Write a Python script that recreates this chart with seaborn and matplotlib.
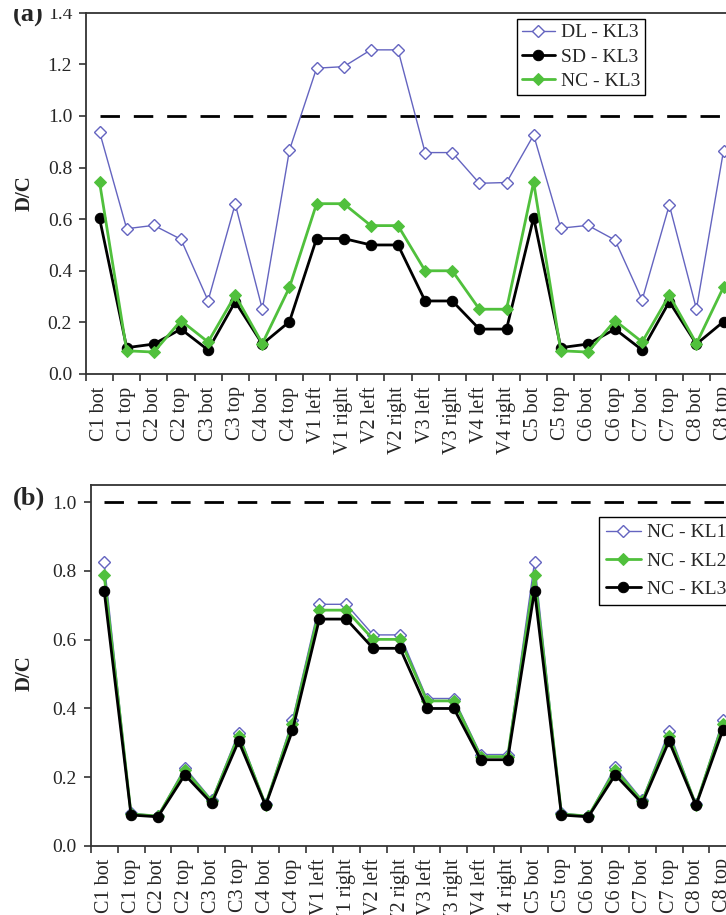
import numpy as np
import pandas as pd
import matplotlib
matplotlib.use("Agg")
import matplotlib.pyplot as plt
from matplotlib.patches import Rectangle
import seaborn as sns

# ---------------- data ----------------
categories = ["C1 bot", "C1 top", "C2 bot", "C2 top", "C3 bot", "C3 top", "C4 bot", "C4 top",
              "V1 left", "V1 right", "V2 left", "V2 right", "V3 left", "V3 right", "V4 left", "V4 right",
              "C5 bot", "C5 top", "C6 bot", "C6 top", "C7 bot", "C7 top", "C8 bot", "C8 top"]

dl_kl3 = [0.938, 0.563, 0.576, 0.522, 0.284, 0.659, 0.251, 0.868,
          1.185, 1.191, 1.256, 1.256, 0.858, 0.858, 0.739, 0.742,
          0.926, 0.565, 0.576, 0.519, 0.287, 0.655, 0.252, 0.866]
sd_kl3 = [0.603, 0.102, 0.116, 0.174, 0.093, 0.280, 0.116, 0.203,
          0.525, 0.525, 0.500, 0.500, 0.283, 0.283, 0.174, 0.174,
          0.606, 0.102, 0.116, 0.174, 0.093, 0.280, 0.116, 0.203]
nc_kl3 = [0.743, 0.090, 0.085, 0.207, 0.124, 0.305, 0.118, 0.336,
          0.660, 0.660, 0.575, 0.575, 0.400, 0.400, 0.251, 0.251,
          0.743, 0.090, 0.085, 0.207, 0.124, 0.305, 0.118, 0.337]
nc_kl1 = [0.825, 0.095, 0.088, 0.228, 0.134, 0.330, 0.122, 0.366,
          0.703, 0.703, 0.614, 0.614, 0.429, 0.429, 0.266, 0.266,
          0.826, 0.095, 0.088, 0.230, 0.134, 0.334, 0.122, 0.366]
nc_kl2 = [0.789, 0.093, 0.087, 0.221, 0.130, 0.321, 0.120, 0.355,
          0.686, 0.686, 0.601, 0.601, 0.422, 0.422, 0.260, 0.260,
          0.789, 0.093, 0.087, 0.221, 0.130, 0.321, 0.120, 0.355]

ticks_a = [0.0, 0.2, 0.4, 0.6, 0.8, 1.0, 1.2, 1.4]
ticks_b = [0.0, 0.2, 0.4, 0.6, 0.8, 1.0]

# ---------------- style ----------------
sns.set_style("ticks")
plt.rcParams["font.family"] = ["Liberation Serif", "DejaVu Serif"]
plt.rcParams["axes.edgecolor"] = "#333333"
plt.rcParams["axes.linewidth"] = 1.3

BLUE = "#6464c0"
GREEN = "#50c03c"
BLACK = "#000000"

W, H = 726, 915
fig = plt.figure(figsize=(W / 100, H / 100), dpi=100)

x = np.arange(len(categories))


def px_axes(left, top, bottom, px_per_unit, xmax):
    width = (xmax + 0.5) * px_per_unit
    return fig.add_axes([left / W, 1 - bottom / H, width / W, (bottom - top) / H])


def style_axes(ax, yticks, ylim, xmax):
    ax.set_xlim(-0.5, xmax)
    ax.set_ylim(*ylim)
    ax.set_yticks(yticks)
    ax.set_yticklabels([f"{t:.1f}" for t in yticks], fontsize=14)
    ax.set_xticks(np.arange(-0.5, xmax, 1.0))
    ax.set_xticklabels([])
    ax.set_xticks(x, minor=True)
    ax.set_xticklabels(categories, minor=True, rotation=90, fontsize=14.5)
    ax.tick_params(axis="x", which="major", direction="out", length=5, width=1.2, color="#333333")
    ax.tick_params(axis="x", which="minor", length=0, pad=9)
    ax.tick_params(axis="y", direction="out", length=5, width=1.2, color="#333333", pad=5)
    ax.set_xlabel("")
    ax.set_ylabel("")
    for s in ["top", "left", "bottom"]:
        ax.spines[s].set_visible(True)
    ax.spines["right"].set_visible(False)
    ax.hlines(1.0, 0, xmax, colors="black", linestyles=(0, (7, 5)), linewidth=2, zorder=1)


# ---------------- panel (a) ----------------
XMAX = 26.5
ax1 = px_axes(86, 12.7, 374, 27.13, XMAX)
sns.lineplot(x=x, y=dl_kl3, ax=ax1, color=BLUE, lw=1.0, marker="D", markersize=6,
             markerfacecolor="white", markeredgecolor=BLUE, markeredgewidth=1.0, label="DL - KL3")
sns.lineplot(x=x, y=sd_kl3, ax=ax1, color=BLACK, lw=2.0, marker="o", markersize=7.5,
             markeredgecolor=BLACK, label="SD - KL3")
sns.lineplot(x=x, y=nc_kl3, ax=ax1, color=GREEN, lw=2.0, marker="D", markersize=6,
             markeredgecolor=GREEN, label="NC - KL3")
style_axes(ax1, ticks_a, (0, 1.4), XMAX)
leg1 = ax1.legend(loc="upper left", bbox_to_anchor=(517 / W, 1 - 19 / H), bbox_transform=fig.transFigure,
                  fontsize=14, frameon=True, fancybox=False, edgecolor="black", framealpha=1,
                  handlelength=1.7, handletextpad=0.3, labelspacing=0.35, borderpad=0.25,
                  borderaxespad=0)
leg1.get_frame().set_linewidth(1.0)

# ---------------- panel (b) ----------------
ax2 = px_axes(90.7, 485, 846, 26.9, XMAX)
sns.lineplot(x=x, y=nc_kl1, ax=ax2, color=BLUE, lw=1.0, marker="D", markersize=6,
             markerfacecolor="white", markeredgecolor=BLUE, markeredgewidth=1.0, label="NC - KL1")
sns.lineplot(x=x, y=nc_kl2, ax=ax2, color=GREEN, lw=2.0, marker="D", markersize=6,
             markeredgecolor=GREEN, label="NC - KL2")
sns.lineplot(x=x, y=nc_kl3, ax=ax2, color=BLACK, lw=2.0, marker="o", markersize=7.5,
             markeredgecolor=BLACK, label="NC - KL3")
style_axes(ax2, ticks_b, (0, 1.05), XMAX)
leg2 = ax2.legend(loc="upper left", bbox_to_anchor=(599 / W, 1 - 517 / H), bbox_transform=fig.transFigure,
                  fontsize=14, frameon=True, fancybox=False, edgecolor="black", framealpha=1,
                  handlelength=1.8, handletextpad=0.3, labelspacing=0.55, borderpad=0.35,
                  borderaxespad=0)
leg2.get_frame().set_linewidth(1.0)

# ---------------- labels ----------------
fig.text(25 / W, 1 - 193 / H, "D/C", rotation=90, fontsize=15, fontweight="bold",
         ha="center", va="center")
fig.text(25 / W, 1 - 673 / H, "D/C", rotation=90, fontsize=15, fontweight="bold",
         ha="center", va="center")
fig.text(13 / W, 1 - 15 / H, "(a)", fontsize=19, fontweight="bold", ha="left", va="center")
fig.text(13 / W, 1 - 498 / H, "(b)", fontsize=19, fontweight="bold", ha="left", va="center")

# the reference is cropped at its top edge
fig.patches.append(Rectangle((0, 1 - 9 / H), 1, 9 / H, transform=fig.transFigure,
                             facecolor="white", edgecolor="none", zorder=100))

fig.savefig("out.png", dpi=100)
